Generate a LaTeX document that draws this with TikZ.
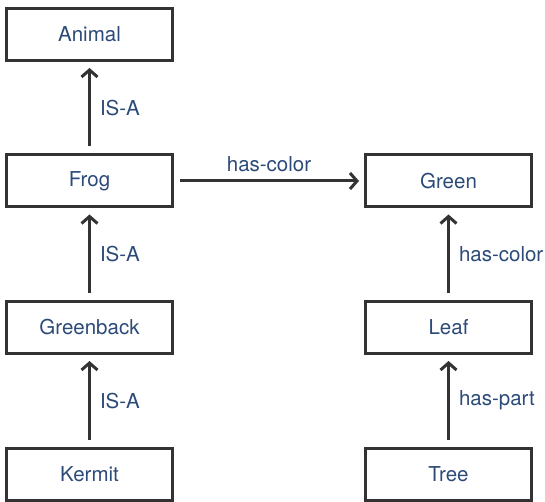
\documentclass[tikz,border=0pt]{standalone}
\usepackage{fontspec}
\setmainfont{TeX Gyre Heros}
\usetikzlibrary{arrows.meta}
\definecolor{labelblue}{RGB}{44,74,120}
\definecolor{edgegray}{RGB}{51,51,51}
\begin{document}
\begin{tikzpicture}[x=1pt,y=-1pt,
  concept/.style={draw=edgegray, line width=3pt, minimum width=166pt, minimum height=52pt,
    inner sep=0pt, text=labelblue, font=\fontsize{20.5}{24}\selectfont},
  rel/.style={draw=edgegray, line width=3pt, -{Straight Barb[length=7pt,width=16pt,line width=3pt]},
    shorten <=7pt, shorten >=6pt},
  rellabel/.style={text=labelblue, font=\fontsize{20.5}{24}\selectfont, inner sep=0pt}]
  \useasboundingbox (0,0) rectangle (545,502);

  % left column: taxonomy of Kermit
  \node[concept] (animal)    at (89.5,34.5) {Animal};
  \node[concept] (frog)      at (89.5,181)  {Frog};
  \node[concept] (greenback) at (89.5,327.5) {Greenback};
  \node[concept] (kermit)    at (89.5,474)  {Kermit};

  % right column: tree parts
  \node[concept] (green) at (448.5,181)   {Green};
  \node[concept] (leaf)  at (448.5,327.5) {Leaf};
  \node[concept] (tree)  at (448.5,474)   {Tree};

  % relations
  \draw[rel] (frog.north) -- node[rellabel, anchor=west, xshift=9pt] {IS-A} (animal.south);
  \draw[rel] (greenback.north) -- node[rellabel, anchor=west, xshift=9pt] {IS-A} (frog.south);
  \draw[rel] (kermit.north) -- node[rellabel, anchor=west, xshift=9pt] {IS-A} (greenback.south);
  \draw[rel, shorten <=6pt, shorten >=5pt] (frog.east) -- node[rellabel, anchor=south, yshift=8pt] {has-color} (green.west);
  \draw[rel] (leaf.north) -- node[rellabel, anchor=west, xshift=9pt] {has-color} (green.south);
  \draw[rel] (tree.north) -- node[rellabel, anchor=west, xshift=9pt] {has-part} (leaf.south);
\end{tikzpicture}
\end{document}
